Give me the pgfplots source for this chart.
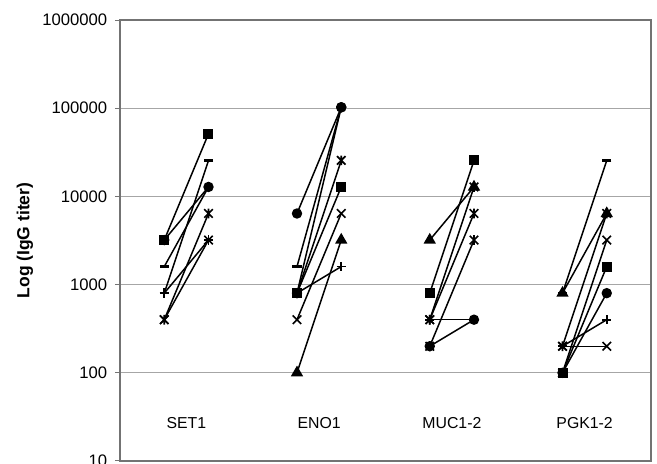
\documentclass[border=0pt]{standalone}
\usepackage{fontspec}
\setmainfont{Liberation Sans}
\usepackage{pgfplots}
\pgfplotsset{compat=1.18}
\usetikzlibrary{plotmarks}

\pgfdeclareplotmark{xstar}{%
  \pgfpathmoveto{\pgfqpoint{-0.75\pgfplotmarksize}{-0.75\pgfplotmarksize}}%
  \pgfpathlineto{\pgfqpoint{0.75\pgfplotmarksize}{0.75\pgfplotmarksize}}%
  \pgfpathmoveto{\pgfqpoint{-0.75\pgfplotmarksize}{0.75\pgfplotmarksize}}%
  \pgfpathlineto{\pgfqpoint{0.75\pgfplotmarksize}{-0.75\pgfplotmarksize}}%
  \pgfpathmoveto{\pgfqpoint{0pt}{-0.85\pgfplotmarksize}}%
  \pgfpathlineto{\pgfqpoint{0pt}{0.85\pgfplotmarksize}}%
  \pgfusepathqstroke}
\pgfdeclareplotmark{xx}{%
  \pgfpathmoveto{\pgfqpoint{-0.75\pgfplotmarksize}{-0.75\pgfplotmarksize}}%
  \pgfpathlineto{\pgfqpoint{0.75\pgfplotmarksize}{0.75\pgfplotmarksize}}%
  \pgfpathmoveto{\pgfqpoint{-0.75\pgfplotmarksize}{0.75\pgfplotmarksize}}%
  \pgfpathlineto{\pgfqpoint{0.75\pgfplotmarksize}{-0.75\pgfplotmarksize}}%
  \pgfusepathqstroke}

\pgfplotsset{
  sq/.style={mark=square*, mark size=2.5pt},
  ci/.style={mark=*, mark size=2.6pt},
  tr/.style={mark=triangle*, mark size=3.3pt},
  xm/.style={mark=xx, mark size=3.4pt},
  st/.style={mark=xstar, mark size=3.4pt},
  pl/.style={mark=+, mark size=2.8pt},
  da/.style={mark=-, mark size=2.8pt, mark options={line width=1.4pt}},
}

\begin{document}
\begin{tikzpicture}
\begin{axis}[
  at={(0,0)}, anchor=south west,
  scale only axis, width=318.6pt, height=264.6pt,
  xmin=0, xmax=12,
  ymode=log, log basis y=10, ymin=10, ymax=1000000,
  ytick={10,100,1000,10000,100000,1000000},
  yticklabels={10,100,1000,10000,100000,1000000},
  yminorticks=false,
  xtick=\empty,
  ytick pos=left, tick align=outside, major tick length=3pt,
  tick style={draw=black!55, line width=0.6pt},
  axis line style={draw=black!55, line width=0.9pt},
  ymajorgrids, grid style={draw=black!35, line width=0.6pt},
  yticklabel style={font=\fontsize{10}{12}\selectfont, inner sep=0pt, xshift=-4.5pt},
  every axis y label/.style={at={(axis description cs:-0.1789,0.5)}, rotate=90, anchor=center,
    font=\fontsize{10.5}{12}\selectfont\bfseries},
  ylabel={Log (IgG titer)},
  every axis plot/.append style={black, line width=0.9pt, mark options={solid, fill=black, line width=1pt}},
  clip=false,
]
% SET1
\addplot[da] coordinates {(1,1600) (2,12800)};
\addplot[da] coordinates {(1,800) (2,25600)};
\addplot[ci] coordinates {(1,3200) (2,12800)};
\addplot[xm] coordinates {(1,400) (2,3200)};
\addplot[st] coordinates {(1,400) (2,6400)};
\addplot[pl] coordinates {(1,800) (2,3200)};
\addplot[sq] coordinates {(1,3200) (2,51200)};
% ENO1
\addplot[ci] coordinates {(4,800) (5,102400)};
\addplot[da] coordinates {(4,1600) (5,102400)};
\addplot[ci] coordinates {(4,6400) (5,102400)};
\addplot[st] coordinates {(4,800) (5,25600)};
\addplot[pl] coordinates {(4,800) (5,1600)};
\addplot[sq] coordinates {(4,800) (5,12800)};
\addplot[xm] coordinates {(4,400) (5,6400)};
\addplot[tr] coordinates {(4,100) (5,3200)};
% MUC1-2
\addplot[da] coordinates {(7,400) (8,400)};
\addplot[ci] coordinates {(7,200) (8,400)};
\addplot[tr] coordinates {(7,3200) (8,12800)};
\addplot[st] coordinates {(7,400) (8,12800)};
\addplot[st] coordinates {(7,400) (8,6400)};
\addplot[st] coordinates {(7,200) (8,3200)};
\addplot[sq] coordinates {(7,800) (8,25600)};
% PGK1-2
\addplot[da] coordinates {(10,800) (11,25600)};
\addplot[tr] coordinates {(10,800) (11,6400)};
\addplot[st] coordinates {(10,200) (11,6400)};
\addplot[xm] coordinates {(10,200) (11,200)};
\addplot[pl] coordinates {(10,200) (11,400)};
\addplot[ci] coordinates {(10,100) (11,800)};
\addplot[xm] coordinates {(10,100) (11,3200)};
\addplot[sq] coordinates {(10,100) (11,1600)};
% category labels
\node[font=\fontsize{9.5}{11}\selectfont] at (axis cs:1.5,27) {SET1};
\node[font=\fontsize{9.5}{11}\selectfont] at (axis cs:4.5,27) {ENO1};
\node[font=\fontsize{9.5}{11}\selectfont] at (axis cs:7.5,27) {MUC1-2};
\node[font=\fontsize{9.5}{11}\selectfont] at (axis cs:10.5,27) {PGK1-2};
\end{axis}
\pgfresetboundingbox
\path[use as bounding box] (-72pt,-1.8pt) rectangle (322.2pt,276.6pt);
\end{tikzpicture}
\end{document}
